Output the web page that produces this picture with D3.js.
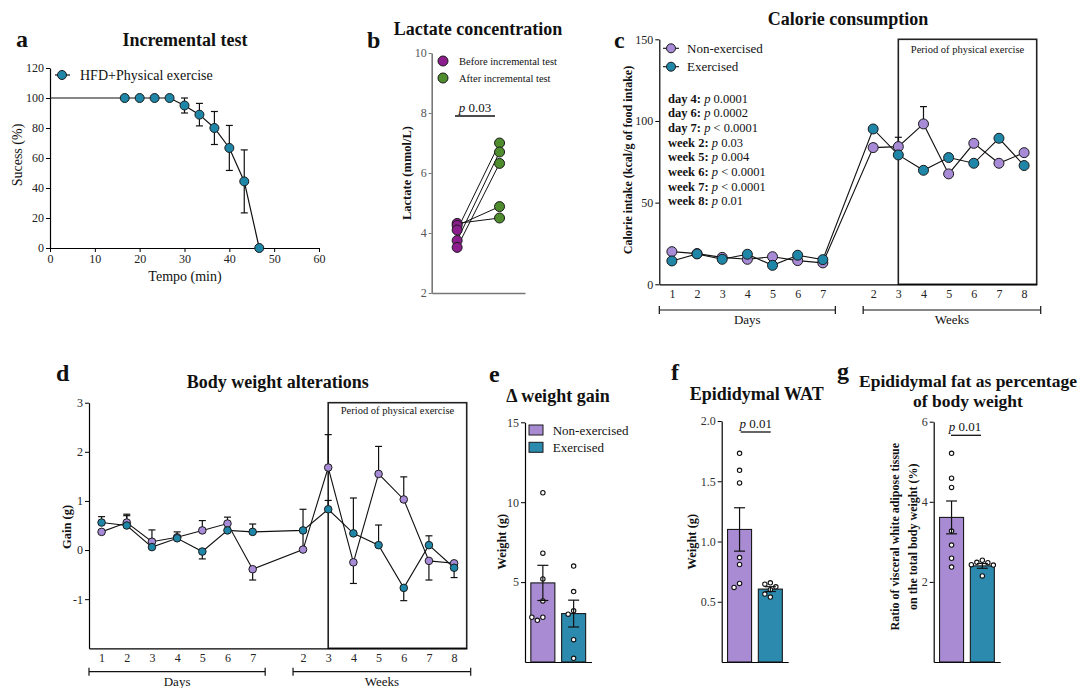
<!DOCTYPE html>
<html><head><meta charset="utf-8">
<script src="https://cdn.jsdelivr.net/npm/d3@7"></script>
<style>body{margin:0;background:#fff} svg{display:block} svg text{font-family:"Liberation Serif","DejaVu Serif","Noto Serif",serif !important;}</style>
</head><body><svg id="chart" width="1083" height="688"></svg>
<script>
// ---------------- DATA ----------------
// a: incremental test
const aTime = [0, 16.67, 20, 23.33, 26.67, 30, 33.33, 36.67, 40, 43.33, 46.67];
const aSuccess = [100, 100, 100, 100, 100, 95, 88.9, 80, 66.7, 44.4, 0];
const aSem = [0, 0, 0, 0, 0, 5, 7.5, 11, 15, 21, 0];
const aTicksX = [0, 10, 20, 30, 40, 50, 60];
const aTicksY = [0, 20, 40, 60, 80, 100, 120];

// b: lactate
const bGroups = ["Before incremental test", "After incremental test"];
const bBefore = [4.32, 4.25, 4.10, 3.75, 3.52];
const bAfter = [4.50, 4.88, 7.00, 6.70, 6.32];
const bTicks = [2, 4, 6, 8, 10];

// c: calorie consumption
const seriesNames = ["Non-exercised", "Exercised"];
const cDays = ["1", "2", "3", "4", "5", "6", "7"];
const cWeeks = ["2", "3", "4", "5", "6", "7", "8"];
const cNonEx = [20.0, 18.8, 16.5, 15.3, 16.9, 14.5, 13.1, 83.7, 84.3, 98.2, 67.6, 86.3, 74.1, 80.6];
const cEx = [14.3, 18.6, 15.3, 18.4, 11.6, 17.8, 15.1, 95.1, 79.2, 69.8, 77.6, 74.1, 89.4, 72.7];
const cNonExErr = [0, 0, 0, 0, 0, 0, 0, 2.2, 5.7, 10.6, 0, 0, 0, 0];
const cExErr = [0, 0, 0, 0, 0, 0, 0, 0, 0, 0, 0, 0, 0, 0];
const cTicksY = [0, 50, 100, 150];
const cStats = [["day 4:", "0.0001"], ["day 6:", "0.0002"], ["day 7:", "< 0.0001"], ["week 2:", "0.03"],
  ["week 5:", "0.004"], ["week 6:", "< 0.0001"], ["week 7:", "< 0.0001"], ["week 8:", "0.01"]];
const exerciseStartWeek = "3";

// d: body weight alterations
const dNonEx = [0.37, 0.56, 0.17, 0.26, 0.40, 0.54, -0.39, 0.01, 1.68, -0.25, 1.55, 1.03, -0.22, -0.27];
const dEx = [0.56, 0.50, 0.06, 0.24, -0.03, 0.40, 0.37, 0.40, 0.83, 0.34, 0.10, -0.77, 0.10, -0.36];
const dNonExErr = [0, 0.17, 0.24, 0, 0.20, 0.13, -0.22, 0.38, 0.67, -0.43, 0.56, 0.46, -0.39, 0];
const dExErr = [0.12, 0.20, 0, 0.13, -0.15, 0, 0.16, 0.43, 0.18, 0.72, 0.41, -0.26, 0.19, -0.20];
const dTicksY = [-1, 0, 1, 2, 3];

// e: delta weight gain
const eMean = [4.95, 3.03];
const eSem = [1.10, 0.84];
const eNonExPts = [10.59, 6.81, 5.20, 3.82, 2.61, 2.80, 2.80];
const eExPts = [6.00, 4.41, 2.99, 3.20, 1.40, 0.23];
const eTicks = [5, 10, 15];

// f: epididymal WAT
const fMean = [1.10, 0.605];
const fSem = [0.18, 0.02];
const fNonExPts = [1.732, 1.591, 1.486, 0.867, 0.809, 0.619, 0.652];
const fExPts = [0.646, 0.657, 0.624, 0.539, 0.564, 0.600];
const fTicks = [0.5, 1.0, 1.5, 2.0];

// g: fat percentage
const gMean = [3.61, 2.40];
const gSem = [0.41, 0.06];
const gNonExPts = [5.21, 4.59, 4.36, 3.27, 2.92, 2.59, 2.37];
const gExPts = [2.49, 2.43, 2.54, 2.48, 2.15, 2.42];
const gTicks = [2, 4, 6];

// ---------------- STYLE ----------------
const SERIF = '"Liberation Serif","DejaVu Serif",serif';
const PURPLE = "#a78bd6", TEAL = "#1f86a7";
const BARP = "#a98bd4", BART = "#2b8aad";
const MAG = "#8c1d8c", GREEN = "#4e8c2e";
const svg = d3.select("#chart");
const intFmt = d => String(d);

function txt(x, y, s, o = {}) {
  const t = svg.append("text").attr("x", x).attr("y", y).text(s)
    .attr("font-family", SERIF).attr("font-size", o.size || 12)
    .attr("font-weight", o.bold ? "bold" : "normal")
    .attr("fill", o.fill || "#111")
    .attr("text-anchor", o.anchor || "start");
  if (o.italic) t.attr("font-style", "italic");
  if (o.rotate) t.attr("transform", `rotate(-90,${x},${y})`);
  if (o.mid) t.attr("dominant-baseline", "central");
  return t;
}
function styleAxis(g, color = "#222", dom = "#000", w = 1.2) {
  g.selectAll("path.domain").attr("stroke", dom).attr("stroke-width", w);
  g.selectAll(".tick line").attr("stroke", dom).attr("stroke-width", 1);
  g.selectAll("text").attr("font-family", SERIF).attr("font-size", 12).attr("fill", color);
}
function marker(sel, cx, cy, r, fill) {
  sel.append("circle").attr("cx", cx).attr("cy", cy).attr("r", r)
    .attr("fill", fill).attr("stroke", "#1a1a1a").attr("stroke-width", 1);
}
function errBar(x0, yA, yB, capW, capAt) {
  svg.append("line").attr("x1", x0).attr("x2", x0).attr("y1", yA).attr("y2", yB)
    .attr("stroke", "#111").attr("stroke-width", 1.2);
  (capAt || [yB]).forEach(yy => svg.append("line").attr("x1", x0 - capW / 2).attr("x2", x0 + capW / 2)
    .attr("y1", yy).attr("y2", yy).attr("stroke", "#111").attr("stroke-width", 1.2));
}
function bracket(x1, x2, yy, label, ly) {
  svg.append("line").attr("x1", x1).attr("x2", x2).attr("y1", yy).attr("y2", yy).attr("stroke", "#111").attr("stroke-width", 1.2);
  [x1, x2].forEach(xx => svg.append("line").attr("x1", xx).attr("x2", xx).attr("y1", yy - 4).attr("y2", yy + 4).attr("stroke", "#111").attr("stroke-width", 1.2));
  txt((x1 + x2) / 2, ly, label, { size: 13, anchor: "middle" });
}
function pText(cx, by, val, lx1, lx2, ly) {
  const t = txt(cx, by, "", { size: 13, anchor: "middle" });
  t.append("tspan").attr("font-style", "italic").text("p");
  t.append("tspan").text(" " + val);
  svg.append("line").attr("x1", lx1).attr("x2", lx2).attr("y1", ly).attr("y2", ly).attr("stroke", "#111").attr("stroke-width", 1.3);
}

// ---------------- PANEL A ----------------
{
  const x = d3.scaleLinear().domain([0, 60]).range([50, 319]);
  const y = d3.scaleLinear().domain([0, 120]).range([248, 68]);
  svg.append("g").attr("transform", "translate(0,248)")
    .call(d3.axisBottom(x).tickValues(aTicksX).tickFormat(intFmt).tickSize(4).tickSizeOuter(0).tickPadding(2)).call(g => styleAxis(g));
  svg.append("g").attr("transform", "translate(50,0)")
    .call(d3.axisLeft(y).tickValues(aTicksY).tickFormat(intFmt).tickSize(4).tickSizeOuter(0).tickPadding(2)).call(g => styleAxis(g));
  const pts = aTime.map((t, i) => ({ t, v: aSuccess[i], e: aSem[i] }));
  svg.append("path").datum(pts).attr("d", d3.line().x(d => x(d.t)).y(d => y(d.v)))
    .attr("fill", "none").attr("stroke", "#111").attr("stroke-width", 1.2);
  pts.filter(d => d.e > 0).forEach(d => errBar(x(d.t), y(d.v - d.e), y(d.v + d.e), 7, [y(d.v - d.e), y(d.v + d.e)]));
  const mg = svg.append("g");
  pts.filter(d => d.t > 0).forEach(d => marker(mg, x(d.t), y(d.v), 4.5, TEAL));
  svg.append("line").attr("x1", 55).attr("x2", 70).attr("y1", 75).attr("y2", 75).attr("stroke", "#111").attr("stroke-width", 1.2);
  marker(svg, 62, 75, 4.5, TEAL);
  txt(80, 75, "HFD+Physical exercise", { size: 14, mid: true });
  txt(185, 276, "Tempo (min)", { size: 14, anchor: "middle", mid: true });
  txt(17, 155, "Sucess (%)", { size: 14, anchor: "middle", mid: true, rotate: true });
  txt(185, 46, "Incremental test", { size: 18, bold: true, anchor: "middle" });
  txt(16, 47, "a", { size: 24, bold: true });
}

// ---------------- PANEL B ----------------
{
  const y = d3.scaleLinear().domain([2, 10]).range([293, 53]);
  const x = d3.scalePoint().domain(bGroups).range([431.7, 525]).padding(0.6);
  svg.append("g").attr("transform", "translate(431.7,0)")
    .call(d3.axisLeft(y).tickValues(bTicks).tickFormat(intFmt).tickSize(3).tickSizeOuter(0).tickPadding(2))
    .call(g => styleAxis(g, "#555", "#777", 1.6));
  svg.append("g").attr("transform", "translate(0,293)")
    .call(d3.axisBottom(x).tickSize(0).tickSizeOuter(0).tickFormat(""))
    .call(g => styleAxis(g, "#555", "#777", 1.6));
  bBefore.forEach((v, i) => svg.append("line").attr("x1", x(bGroups[0])).attr("x2", x(bGroups[1]))
    .attr("y1", y(v)).attr("y2", y(bAfter[i])).attr("stroke", "#111").attr("stroke-width", 1));
  bBefore.forEach(v => marker(svg, x(bGroups[0]), y(v), 5, MAG));
  bAfter.forEach(v => marker(svg, x(bGroups[1]), y(v), 5, GREEN));
  marker(svg, 443, 61, 5, MAG);
  marker(svg, 443, 78, 5, GREEN);
  txt(459, 61, bGroups[0], { size: 10.5, mid: true });
  txt(459, 78, bGroups[1], { size: 10.5, mid: true });
  pText(475, 112, "0.03", 455, 495, 116);
  txt(407, 173, "Lactate (mmol/L)", { size: 12.5, bold: true, anchor: "middle", mid: true, rotate: true });
  txt(478, 35, "Lactate concentration", { size: 18, bold: true, anchor: "middle" });
  txt(367, 48, "b", { size: 24, bold: true });
}

// ---------------- TIME-SERIES HELPER (C & D) ----------------
function timeSeries(cfg) {
  const labels = cDays.concat(cWeeks);
  const slots = cDays.map((d, i) => i).concat(cWeeks.map((d, i) => i + cDays.length + 1));
  const x = d3.scaleLinear().domain([-0.5, slots[slots.length - 1] + 0.5]).range(cfg.xr);
  const y = d3.scaleLinear().domain(cfg.yd).range(cfg.yr);
  const wk3 = slots[cDays.length + cWeeks.indexOf(exerciseStartWeek)];
  svg.append("rect").attr("x", x(wk3)).attr("y", cfg.yr[1]).attr("width", cfg.xr[1] - x(wk3))
    .attr("height", cfg.yr[0] - cfg.yr[1]).attr("fill", "none").attr("stroke", "#222").attr("stroke-width", 1.6);
  txt((x(wk3) + cfg.xr[1]) / 2, cfg.boxTextY, "Period of physical exercise", { size: 10.5, anchor: "middle", mid: true });
  svg.append("g").attr("transform", `translate(0,${cfg.yr[0]})`)
    .call(d3.axisBottom(x).tickValues(slots).tickFormat((s, i) => labels[i]).tickSize(0).tickSizeOuter(0).tickPadding(5))
    .call(g => styleAxis(g));
  svg.append("g").attr("transform", `translate(${cfg.xr[0]},0)`)
    .call(d3.axisLeft(y).tickValues(cfg.ticks).tickFormat(intFmt).tickSize(4).tickSizeOuter(0).tickPadding(2))
    .call(g => styleAxis(g));
  const series = [[cfg.non, cfg.nonErr, PURPLE], [cfg.ex, cfg.exErr, TEAL]];
  series.forEach(([vals]) => svg.append("path").datum(vals)
    .attr("d", d3.line().x((d, i) => x(slots[i])).y(d => y(d)))
    .attr("fill", "none").attr("stroke", "#111").attr("stroke-width", 1.1));
  series.forEach(([vals, errs]) => vals.forEach((v, i) => {
    if (errs[i] !== 0) errBar(x(slots[i]), y(v), y(v + errs[i]), 7);
  }));
  series.forEach(([vals, , col]) => vals.forEach((v, i) => marker(svg, x(slots[i]), y(v), cfg.r, col)));
  bracket(cfg.xr[0], x(slots[cDays.length - 1]) + 12.5, cfg.brY, "Days", cfg.brLabelY);
  bracket(x(slots[cDays.length]) - 10, cfg.xr[1] + 4, cfg.brY, "Weeks", cfg.brLabelY);
  return { x, y };
}

// ---------------- PANEL C ----------------
{
  timeSeries({ xr: [659.3, 1036.7], yr: [284.3, 39.3], yd: [0, 150], ticks: cTicksY,
    non: cNonEx, nonErr: cNonExErr, ex: cEx, exErr: cExErr, r: 5,
    boxTextY: 49, brY: 310, brLabelY: 324 });
  [[48.3, PURPLE], [66.7, TEAL]].forEach(([yy, col], i) => {
    svg.append("line").attr("x1", 663).attr("x2", 679).attr("y1", yy).attr("y2", yy).attr("stroke", "#111").attr("stroke-width", 1.1);
    marker(svg, 671, yy, 4.5, col);
    txt(687, yy, seriesNames[i], { size: 13, mid: true });
  });
  cStats.forEach(([lab, val], i) => {
    const t = txt(668, 102.5 + i * 14.7, "", { size: 12.5 });
    t.append("tspan").attr("font-weight", "bold").text(lab + " ");
    t.append("tspan").attr("font-style", "italic").text("p");
    t.append("tspan").text(" " + val);
  });
  txt(628, 160, "Calorie intake (kcal/g of food intake)", { size: 12, bold: true, anchor: "middle", mid: true, rotate: true });
  txt(848, 25, "Calorie consumption", { size: 18, bold: true, anchor: "middle" });
  txt(614, 48, "c", { size: 24, bold: true });
}

// ---------------- PANEL D ----------------
{
  timeSeries({ xr: [89, 466.7], yr: [648.3, 402.7], yd: [-2, 3], ticks: dTicksY,
    non: dNonEx, nonErr: dNonExErr, ex: dEx, exErr: dExErr, r: 3.8,
    boxTextY: 410, brY: 671.7, brLabelY: 686 });
  txt(66.7, 527, "Gain (g)", { size: 12.5, bold: true, anchor: "middle", mid: true, rotate: true });
  txt(277.7, 388, "Body weight alterations", { size: 18, bold: true, anchor: "middle" });
  txt(56, 381, "d", { size: 24, bold: true });
}

// ---------------- BAR PANELS ----------------
function swarm(vals, y, cx, r, step) {
  const placed = [];
  const order = vals.map((v, i) => i).sort((a, b) => vals[b] - vals[a]);
  order.forEach(i => {
    const cy = y(vals[i]);
    for (let k = 0; k < 20; k++) {
      const off = (k % 2 === 1 ? -1 : 1) * Math.ceil(k / 2) * step;
      const ok = placed.every(p => Math.hypot(p.x - (cx + off), p.y - cy) >= 2 * r + 1.2);
      if (ok) { placed.push({ x: cx + off, y: cy }); break; }
    }
  });
  return placed;
}
function barPanel(cfg) {
  const y = d3.scaleLinear().domain(cfg.yd).range([662, cfg.top]);
  const x = d3.scaleBand().domain(seriesNames).range([cfg.x0, cfg.x0 + 66.5]).paddingInner(0.22).paddingOuter(0.19);
  svg.append("g").attr("transform", `translate(${cfg.x0},0)`)
    .call(d3.axisLeft(y).tickValues(cfg.ticks).tickSize(4).tickSizeOuter(0).tickPadding(2).tickFormat(cfg.fmt || intFmt))
    .call(g => styleAxis(g, "#333"));
  svg.append("g").attr("transform", "translate(0,662)")
    .call(d3.axisBottom(x).tickSize(0).tickSizeOuter(0).tickFormat(""))
    .call(g => styleAxis(g));
  const cols = [BARP, BART];
  seriesNames.forEach((s, i) => {
    svg.append("rect").attr("x", x(s)).attr("y", y(cfg.mean[i])).attr("width", x.bandwidth())
      .attr("height", y(0) - y(cfg.mean[i])).attr("fill", cols[i]).attr("stroke", "#1a1a1a").attr("stroke-width", 1.1);
  });
  [cfg.pts0, cfg.pts1].forEach((pts, i) => {
    const cx = x(seriesNames[i]) + x.bandwidth() / 2;
    swarm(pts, y, cx, 2.2, 5.5).forEach(p => svg.append("circle").attr("cx", p.x).attr("cy", p.y).attr("r", 2.2)
      .attr("fill", "#fff").attr("stroke", "#111").attr("stroke-width", 1.1));
  });
  seriesNames.forEach((s, i) => {
    const cx = x(s) + x.bandwidth() / 2;
    errBar(cx, y(cfg.mean[i] - cfg.sem[i]), y(cfg.mean[i] + cfg.sem[i]), 11,
      [y(cfg.mean[i] - cfg.sem[i]), y(cfg.mean[i] + cfg.sem[i])]);
  });
  return { x, y };
}

// ---------------- PANEL E ----------------
{
  barPanel({ x0: 525, top: 422.3, yd: [0, 15], ticks: eTicks, mean: eMean, sem: eSem, pts0: eNonExPts, pts1: eExPts });
  [[430, BARP], [447.3, BART]].forEach(([yy, col], i) => {
    svg.append("rect").attr("x", 529).attr("y", yy - 5).attr("width", 14).attr("height", 10)
      .attr("fill", col).attr("stroke", "#1a1a1a").attr("stroke-width", 1);
    txt(552.7, yy, seriesNames[i], { size: 13, mid: true });
  });
  txt(501.7, 541.7, "Weight (g)", { size: 12.5, bold: true, anchor: "middle", mid: true, rotate: true });
  txt(558, 401.7, "\u0394 weight gain", { size: 18, bold: true, anchor: "middle" });
  txt(489, 382, "e", { size: 24, bold: true });
}

// ---------------- PANEL F ----------------
{
  barPanel({ x0: 721.7, top: 421, yd: [0, 2], ticks: fTicks, mean: fMean, sem: fSem, pts0: fNonExPts, pts1: fExPts, fmt: d3.format(".1f") });
  pText(755.7, 428, "0.01", 740.7, 770.7, 432);
  txt(691.7, 541.7, "Weight (g)", { size: 12.5, bold: true, anchor: "middle", mid: true, rotate: true });
  txt(756.7, 400, "Epididymal WAT", { size: 18, bold: true, anchor: "middle" });
  txt(671, 380, "f", { size: 24, bold: true });
}

// ---------------- PANEL G ----------------
{
  barPanel({ x0: 933.7, top: 421.7, yd: [0, 6], ticks: gTicks, mean: gMean, sem: gSem, pts0: gNonExPts, pts1: gExPts });
  pText(965, 431, "0.01", 951, 981, 435.3);
  txt(895, 536.7, "Ratio of visceral white adipose tissue", { size: 12, bold: true, anchor: "middle", mid: true, rotate: true });
  txt(913.3, 536.7, "on the total body weight (%)", { size: 12, bold: true, anchor: "middle", mid: true, rotate: true });
  txt(968, 386.7, "Epididymal fat as percentage", { size: 17.5, bold: true, anchor: "middle" });
  txt(968, 406.7, "of body weight", { size: 17.5, bold: true, anchor: "middle" });
  txt(837, 379, "g", { size: 24, bold: true });
}
</script>
</body></html>
